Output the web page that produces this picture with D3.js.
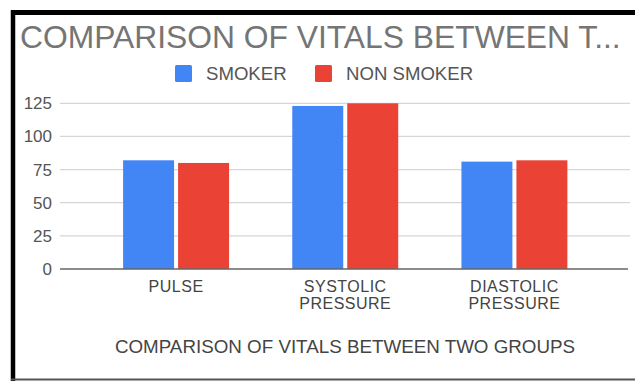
<!DOCTYPE html>
<html>
<head>
<meta charset="utf-8">
<script src="https://cdn.jsdelivr.net/npm/d3@7"></script>
<style>
  html, body { margin: 0; padding: 0; background: #fff; }
  svg { display: block; font-family: Arial, "Liberation Sans", sans-serif; }
</style>
</head>
<body>
<svg id="chart" width="635" height="381"></svg>
<script>
// Vital signs, averaged per group
const categories = [["PULSE"], ["SYSTOLIC", "PRESSURE"], ["DIASTOLIC", "PRESSURE"]];
const categoryKeys = ["PULSE", "SYSTOLIC PRESSURE", "DIASTOLIC PRESSURE"];
const seriesNames = ["SMOKER", "NON SMOKER"];
const smokerValues = [82, 123, 81];
const nonSmokerValues = [80, 125, 82];
const yTicks = [0, 25, 50, 75, 100, 125];
const seriesColors = ["#4285F4", "#EA4335"];

const chartTitle = "COMPARISON OF VITALS BETWEEN T...";
const axisTitle = "COMPARISON OF VITALS BETWEEN TWO GROUPS";

const svg = d3.select("#chart");

// Frame around the chart
svg.append("line").attr("x1", 13).attr("x2", 13).attr("y1", 10).attr("y2", 381)
  .attr("stroke", "#000").attr("stroke-width", 4.5);
svg.append("line").attr("x1", 11).attr("x2", 635).attr("y1", 12.5).attr("y2", 12.5)
  .attr("stroke", "#000").attr("stroke-width", 5);
svg.append("line").attr("x1", 11).attr("x2", 635).attr("y1", 379.5).attr("y2", 379.5)
  .attr("stroke", "#555").attr("stroke-width", 2);

// Title
svg.append("text").attr("x", 20).attr("y", 48)
  .attr("font-size", 31.8).attr("fill", "#757575")
  .text(chartTitle);

// Legend
const legendX = [175, 315];
const legend = svg.append("g");
seriesNames.forEach((name, i) => {
  legend.append("rect").attr("x", legendX[i]).attr("y", 65)
    .attr("width", 17).attr("height", 17).attr("rx", 1.5)
    .attr("fill", seriesColors[i]);
  legend.append("text").attr("x", legendX[i] + 31).attr("y", 80)
    .attr("font-size", 18.6).attr("fill", "#555").text(name);
});

// Scales
const y = d3.scaleLinear().domain([0, 125]).range([269, 103.3]);
const x = d3.scaleBand().domain(categoryKeys).range([91.5, 599]).paddingInner(0).paddingOuter(0);
const xInner = d3.scaleBand().domain(seriesNames).range([0, x.bandwidth()])
  .paddingInner(0.073).paddingOuter(0.575);

const gridLeft = 60, gridRight = 630;

// Gridlines
svg.append("g").selectAll("line").data(yTicks.filter(t => t !== 0)).join("line")
  .attr("x1", gridLeft).attr("x2", gridRight)
  .attr("y1", d => y(d)).attr("y2", d => y(d))
  .attr("stroke", "#d6d6d6").attr("stroke-width", 1.2);

// Y axis labels
const yAxis = d3.axisLeft(y).tickValues(yTicks).tickSize(0).tickPadding(0);
const yG = svg.append("g").attr("transform", "translate(52,0)").call(yAxis);
yG.select(".domain").remove();
yG.selectAll("text").attr("font-size", 17).attr("fill", "#555")
  .attr("font-family", "Arial, 'Liberation Sans', sans-serif");

// Bars
const rows = categoryKeys.map((k, i) => ({ key: k, values: [smokerValues[i], nonSmokerValues[i]] }));
const groups = svg.append("g").selectAll("g").data(rows).join("g")
  .attr("transform", d => `translate(${x(d.key)},0)`);
groups.selectAll("rect").data(d => d.values.map((v, i) => ({ name: seriesNames[i], v, i })))
  .join("rect")
  .attr("x", d => xInner(d.name))
  .attr("width", xInner.bandwidth())
  .attr("y", d => y(d.v))
  .attr("height", d => y(0) - y(d.v))
  .attr("fill", d => seriesColors[d.i]);

// Baseline
svg.append("line").attr("x1", gridLeft).attr("x2", gridRight - 2)
  .attr("y1", y(0)).attr("y2", y(0))
  .attr("stroke", "#666").attr("stroke-width", 1.6);

// Category labels, wrapped onto two lines where needed
const xAxis = d3.axisBottom(x).tickSize(0).tickFormat(() => "");
const xG = svg.append("g").attr("transform", `translate(0,${y(0)})`).call(xAxis);
xG.select(".domain").remove();
xG.selectAll(".tick").each(function(d, i) {
  const g = d3.select(this);
  categories[i].forEach((line, j) => {
    g.append("text")
      .attr("text-anchor", "middle").attr("font-size", 16).attr("fill", "#444")
      .attr("letter-spacing", 0.5)
      .attr("font-family", "Arial, 'Liberation Sans', sans-serif")
      .attr("x", 0).attr("y", 23 + j * 17).text(line);
  });
});

// Axis title
svg.append("text").attr("x", 345).attr("y", 353)
  .attr("text-anchor", "middle").attr("font-size", 18.8).attr("fill", "#444")
  .text(axisTitle);
</script>
</body>
</html>
